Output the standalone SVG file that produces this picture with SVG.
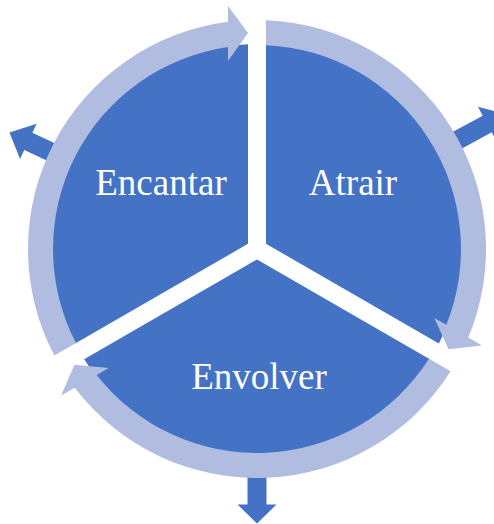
<svg xmlns="http://www.w3.org/2000/svg" width="494" height="524" viewBox="0 0 494 524">
<style>
.seg{fill:#4472C4}
.ring{fill:#B0BDE0}
.out{fill:#4472C4}
.lbl{font-family:"Liberation Serif","Times New Roman",serif;font-size:37px;fill:#FFFFFF;text-anchor:middle}
</style>
<rect width="494" height="524" fill="#FFFFFF"/>
<g id="connectors">
<path class="out" d="M450.48 154.76 L491.78 132.33 L496.56 141.12 L505.71 113.96 L477.95 106.84 L482.72 115.63 L441.42 138.06 Z"/>
<path class="out" d="M66.51 148.86 L32.40 132.81 L36.65 123.77 L9.44 132.51 L20.05 159.05 L24.31 150.01 L58.42 166.06 Z"/>
<path class="out" d="M247.5 464 L247.5 504.5 L237.5 504.5 L257 523.5 L276.5 504.5 L266.5 504.5 L266.5 464 Z"/>
</g>
<g id="node-atrair">
<path class="seg" d="M266 243.8 L266 44.2 A205 205 0 0 1 438.86 343.61 Z"/>
<text class="lbl" x="353" y="195">Atrair</text>
</g>
<g id="node-envolver">
<path class="seg" d="M257 259.4 L429.86 359.19 A205 205 0 0 1 84.14 359.19 Z"/>
<text class="lbl" x="259" y="389">Envolver</text>
</g>
<g id="node-encantar">
<path class="seg" d="M248 243.8 L75.14 343.61 A205 205 0 0 1 248 44.2 Z"/>
<text class="lbl" x="161" y="195">Encantar</text>
</g>
<g id="cycle-arrows">
<path class="ring" d="M266 20.2 A229 229 0 0 1 468.26 337.49 L481.94 345.39 L448.56 349.21 L434.31 317.89 L446.35 324.84 A204 204 0 0 0 266 45.2 Z"/>
<path class="ring" d="M450.64 371.19 A229 229 0 0 1 74.74 387.71 L61.06 395.61 L74.44 364.79 L108.69 368.11 L96.65 375.06 A204 204 0 0 0 428.99 358.69 Z"/>
<path class="ring" d="M54.36 355.61 A229 229 0 0 1 228 21.8 L228 6 L248 33 L228 61 L228 47.1 A204 204 0 0 0 76.01 343.11 Z"/>
</g>
</svg>
